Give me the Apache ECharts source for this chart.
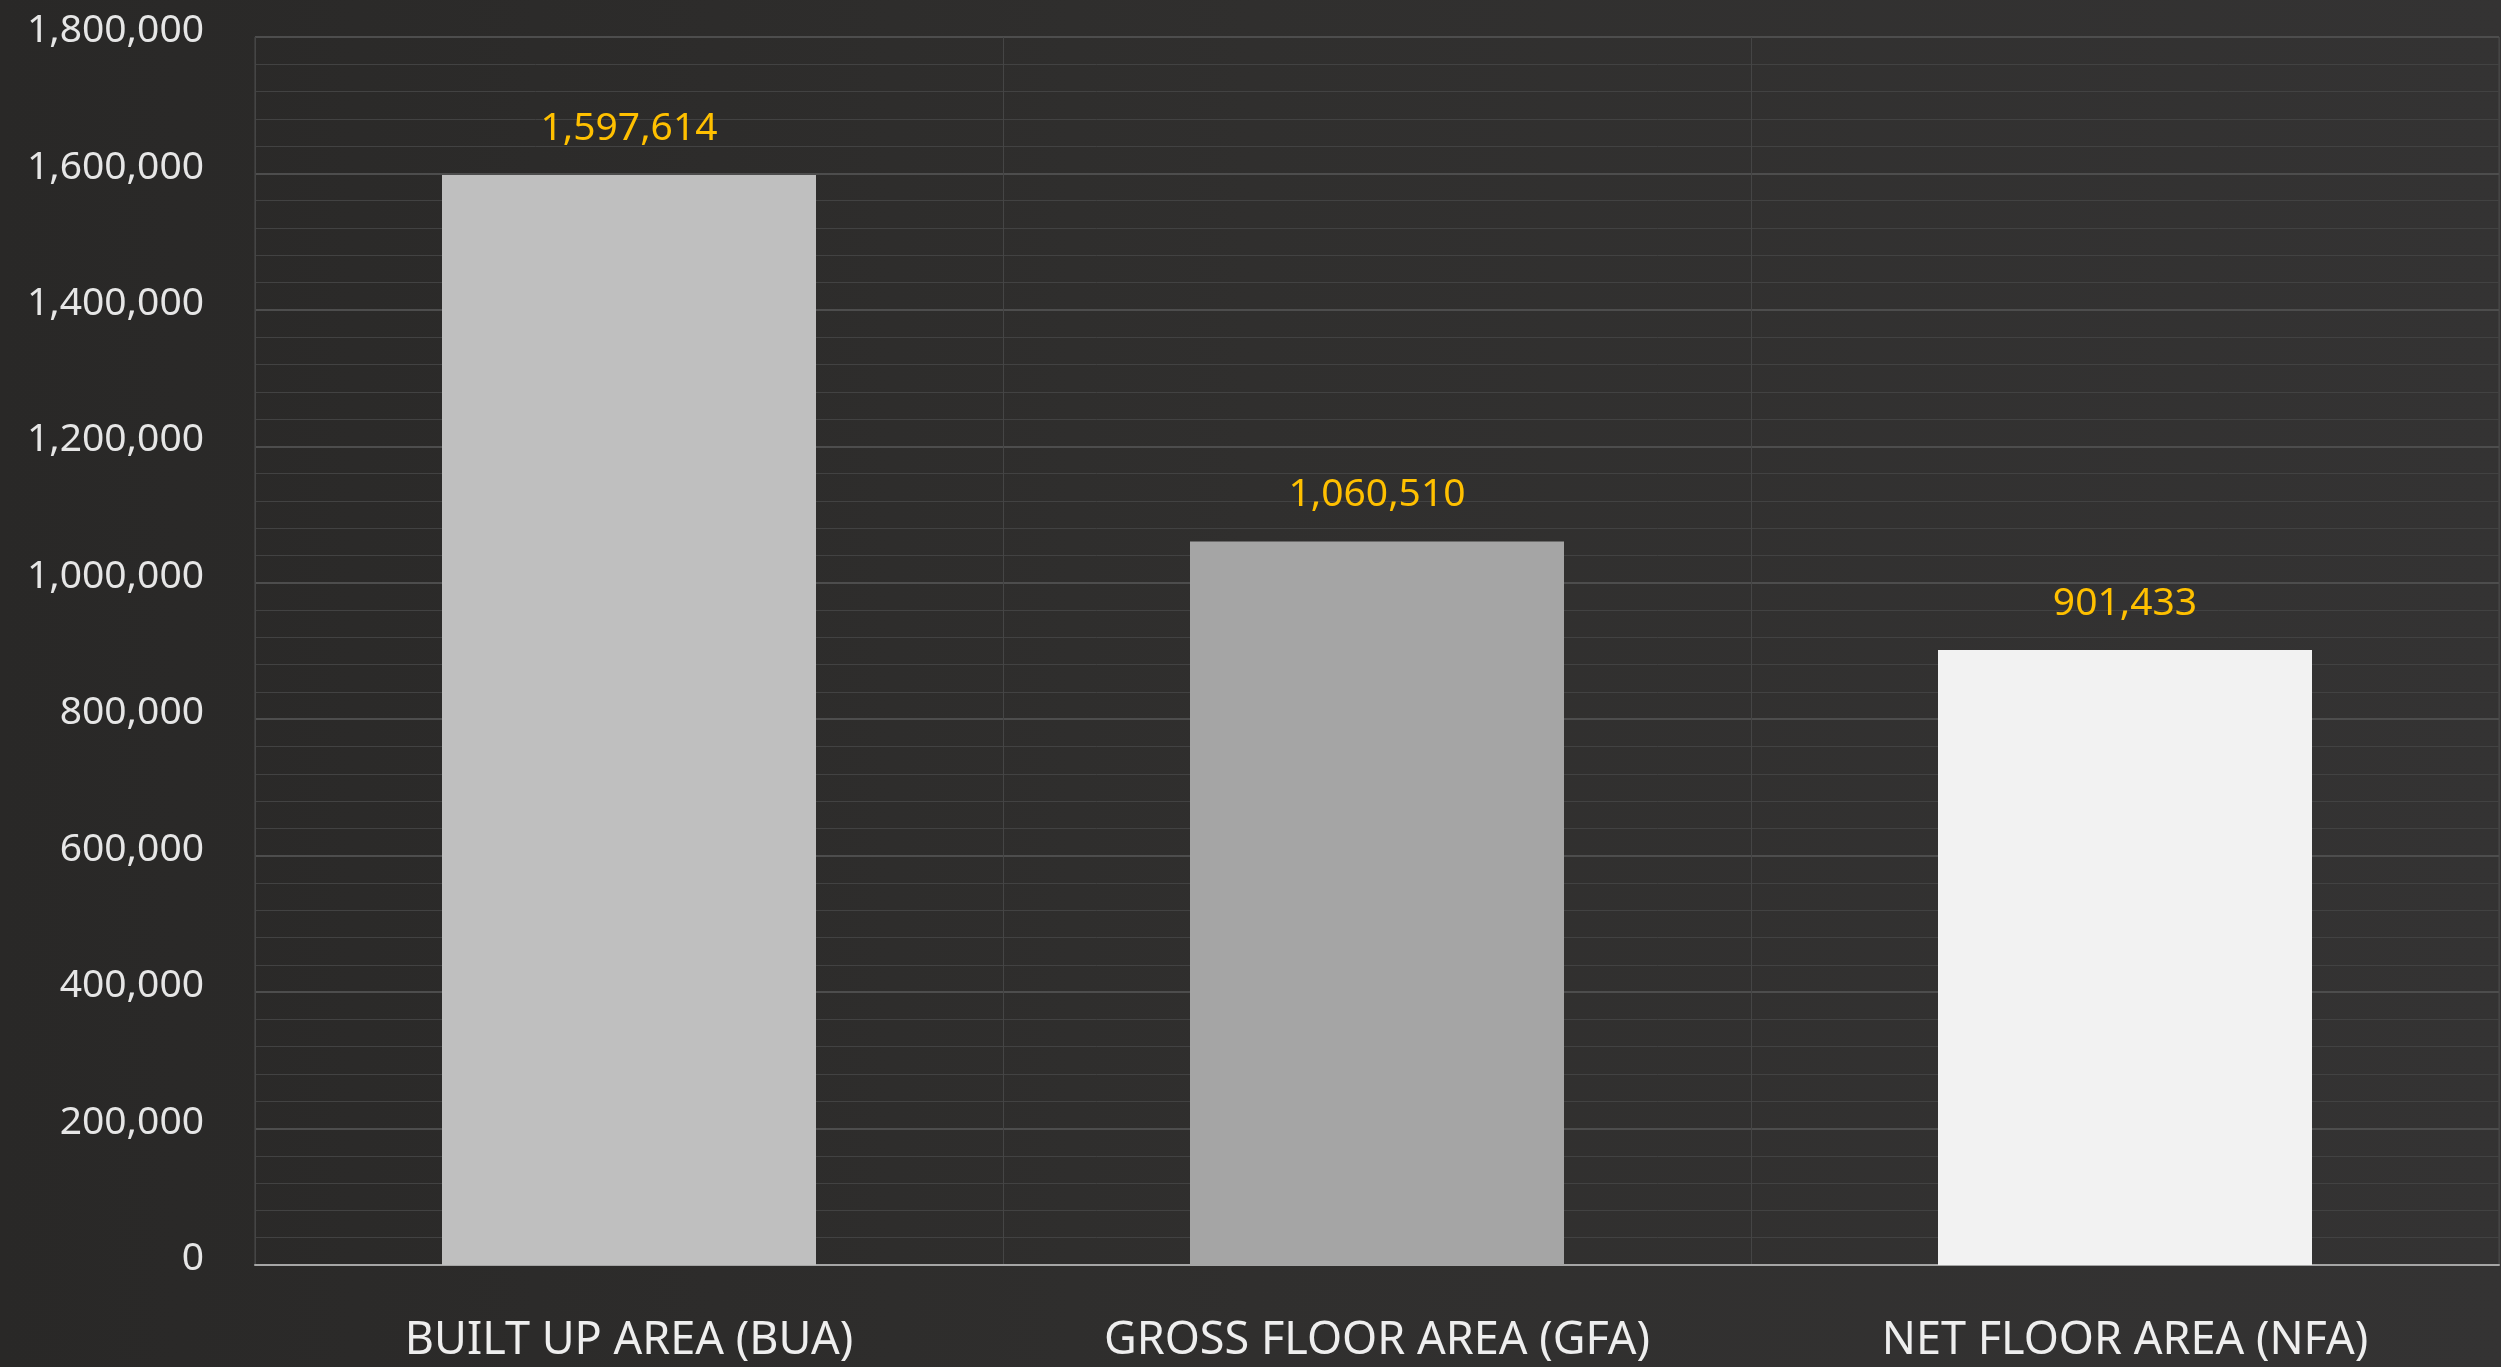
<!DOCTYPE html>
<html>
<head>
<meta charset="utf-8">
<script src="https://cdn.jsdelivr.net/npm/echarts@6/dist/echarts.min.js"></script>
<style>
html,body{margin:0;padding:0;background:#2b2a29;}
#chart{width:2501px;height:1367px;}
</style>
</head>
<body>
<div id="chart"></div>
<script>
const categories = ['BUILT UP AREA (BUA)', 'GROSS FLOOR AREA (GFA)', 'NET FLOOR AREA (NFA)'];
const values = [1597614, 1060510, 901433];
const barColors = ['#bfbfbf', '#a5a5a5', '#f2f2f2'];
const yTicks = [0, 200000, 400000, 600000, 800000, 1000000, 1200000, 1400000, 1600000, 1800000];

const fmt = v => Number(v).toLocaleString('en-US');
const chart = echarts.init(document.getElementById('chart'));
chart.setOption({
  backgroundColor: {
    type: 'linear', x: 0, y: 0, x2: 1, y2: 0,
    colorStops: [{offset: 0, color: '#292827'}, {offset: 0.5, color: '#302f2e'}, {offset: 1, color: '#343333'}]
  },
  animation: false,
  grid: {left: 255, right: 2, top: 37, bottom: 102, show: true, borderColor: '#4a4a4a', borderWidth: 1},
  xAxis: {
    type: 'category',
    data: categories,
    axisTick: {show: false},
    axisLine: {show: true, lineStyle: {color: '#a6a6a6', width: 2}},
    splitLine: {show: true, lineStyle: {color: '#454545', width: 1}},
    axisLabel: {color: '#eeeeee', fontFamily: 'Noto Sans', fontSize: 45, margin: 54}
  },
  yAxis: {
    type: 'value',
    min: yTicks[0],
    max: yTicks[yTicks.length - 1],
    interval: 200000,
    axisLine: {show: false},
    axisTick: {show: false},
    splitLine: {show: true, lineStyle: {color: '#4d4d4d', width: 2}},
    minorTick: {show: false, splitNumber: 5},
    minorSplitLine: {show: true, lineStyle: {color: '#424242', width: 1}},
    axisLabel: {
      color: '#e6e6e6', fontFamily: 'Noto Sans', fontSize: 39, margin: 51,
      formatter: v => fmt(v), verticalAlign: 'bottom', lineHeight: 12
    }
  },
  series: [{
    type: 'bar',
    barWidth: '50%',
    data: values.map((v, i) => ({value: v, itemStyle: {color: barColors[i]}})),
    label: {
      show: true, position: 'top', distance: 27,
      color: '#ffc000', fontFamily: 'Noto Sans', fontSize: 39,
      formatter: p => fmt(p.value)
    }
  }]
});
</script>
</body>
</html>
